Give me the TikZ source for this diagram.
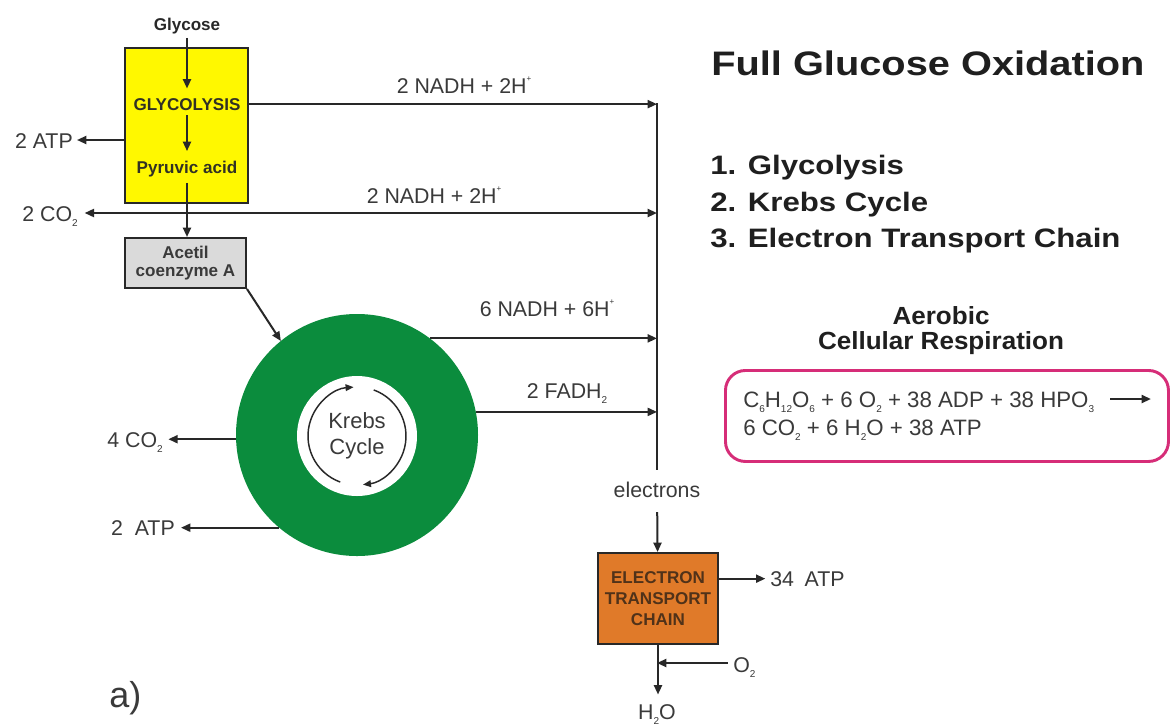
\documentclass[tikz,border=0pt]{standalone}
\usepackage{fontspec}
\setmainfont{Liberation Sans}
\newfontfamily\wideA[FakeStretch=1.17]{Liberation Sans}
\newfontfamily\wideB[FakeStretch=1.05]{Liberation Sans}
\usetikzlibrary{arrows.meta}
\definecolor{ink}{RGB}{40,40,40}
\definecolor{labelgray}{RGB}{58,58,58}
\definecolor{glyyellow}{RGB}{255,248,0}
\definecolor{krebsgreen}{RGB}{11,140,61}
\definecolor{etcorange}{RGB}{224,122,41}
\definecolor{etctext}{RGB}{80,50,25}
\definecolor{acetilgray}{RGB}{218,218,218}
\definecolor{eqmagenta}{RGB}{214,45,120}
\newcommand\lsub[1]{\raisebox{-0.45ex}{\fontsize{7.5}{7.5}\selectfont #1}}
\newcommand\lsup[1]{\raisebox{1.0ex}{\fontsize{6}{6}\selectfont #1}}
\begin{document}
\begin{tikzpicture}[x=0.75pt,y=-0.75pt,
  arr/.style={line width=1.5pt, draw=ink, -{Triangle[length=7pt,width=6pt]}},
  smallarr/.style={line width=1.1pt, draw=ink, -{Triangle[length=6pt,width=5pt]}},
  wire/.style={line width=1.5pt, draw=ink},
  lbl/.style={inner sep=0pt, font=\fontsize{16}{19}\selectfont, text=labelgray},
  boxtxt/.style={inner sep=0pt, font=\fontsize{12.8}{13.5}\selectfont\bfseries},
  procbox/.style={draw=ink, line width=1.5pt, inner sep=0pt, anchor=north west},
  bigtxt/.style={inner sep=0pt, text=black!88},
]
\useasboundingbox (0,0) rectangle (1171,726);
\fill[white] (0,0) rectangle (1171,726);

% ---------- glycolysis ----------
\node[procbox, fill=glyyellow, minimum width=92.25pt, minimum height=116.25pt] (glybox) at (124,47) {};
\node[boxtxt, text=ink, anchor=base] (glycose) at (187,30) {Glycose};
\node[boxtxt, text=ink!90!olive, anchor=base] (glyco) at (187,110) {GLYCOLYSIS};
\node[boxtxt, text=ink!90!olive, anchor=base] (pyr) at (187,173) {Pyruvic acid};
\draw[arr, shorten <=3pt, shorten >=7pt] (glycose) -- (glyco);
\draw[arr, shorten <=3.5pt, shorten >=7pt] (glyco) -- (pyr);

\node[procbox, fill=acetilgray, minimum width=90.75pt, minimum height=37.5pt, align=center,
      font=\fontsize{12.8}{13.5}\selectfont\bfseries, text=labelgray] (acetil) at (124,237) {Acetil\\coenzyme A};
\draw[arr, shorten <=4.5pt] (pyr) -- (pyr |- acetil.north);

% side outputs of glycolysis
\node[lbl, anchor=base east] (atp1) at (73,148) {2 ATP};
\coordinate (yatp) at (0,140);
\draw[arr] (glybox.west |- yatp) -- ([xshift=3pt]atp1.east |- yatp);

\node[lbl, anchor=base east] (co2a) at (78,221) {2 CO\lsub{2}};
\coordinate (j1) at (187,213);

% collector
\coordinate (coltop) at (657,103);
\coordinate (colbot) at (657,470);
\draw[wire] (coltop) -- (colbot);

\draw[arr] (j1) -- ([xshift=5pt]co2a.east |- j1);
\draw[arr] (j1) -- (j1 -| coltop);
\draw[arr] (glybox.east |- glyco) -- (glyco -| coltop);

\node[lbl, anchor=base] (nadh1) at (464,93) {2 NADH + 2H\lsup{+}};
\node[lbl, anchor=base] (nadh2) at (434,203) {2 NADH + 2H\lsup{+}};

% ---------- Krebs cycle ----------
\node[circle, fill=krebsgreen, minimum size=181.5pt, inner sep=0pt, outer sep=0pt] (ring) at (357,435) {};
\node[circle, fill=white, minimum size=90pt, inner sep=0pt, align=center,
      font=\fontsize{16.5}{19.5}\selectfont, text=labelgray] (hole) at (357,436) {Krebs\\Cycle};
\draw[smallarr] ([shift={(110:49)}]hole.center) arc[start angle=110, end angle=266, radius=49];
\draw[smallarr] ([shift={(-70:49)}]hole.center) arc[start angle=-70, end angle=83, radius=49];

\draw[arr] (acetil.south east) -- (ring.129);

\draw[arr] (ring.53) -- (ring.53 -| coltop);
\draw[arr] (ring.11) -- (ring.11 -| coltop);
\node[lbl, anchor=base] (nadh3) at (547,316) {6 NADH + 6H\lsup{+}};
\node[lbl, anchor=base] (fadh) at (567,398) {2 FADH\lsub{2}};

\node[lbl, anchor=base east] (co2b) at (163,447) {4 CO\lsub{2}};
\node[lbl, anchor=base east] (atp2) at (175,535) {2\hspace{0.55em}ATP};
\draw[arr] (ring.182) -- ([xshift=4pt]co2b.east |- ring.182);
\draw[arr] (ring.230) -- ([xshift=4.5pt]atp2.east |- ring.230);

% ---------- electron transport chain ----------
\node[lbl, anchor=base] (elec) at (657,497) {electrons};
\node[procbox, fill=etcorange, minimum width=90pt, minimum height=68.25pt, align=center,
      font=\fontsize{12.8}{15.75}\selectfont\bfseries, text=etctext] (etc) at (597,552) {ELECTRON\\TRANSPORT\\CHAIN};
\draw[arr, shorten <=11pt] (elec) -- (etc);

\node[lbl, anchor=base west] (atp3) at (770,586) {34\hspace{0.5em}ATP};
\draw[arr] (etc.east |- atp3) -- ([xshift=-3.5pt]atp3.west);

\node[lbl, anchor=base] (h2o) at (657,719) {H\lsub{2}O};
\draw[arr] (etc.south) -- ([yshift=7pt]etc.south |- h2o.north);
\node[lbl, anchor=base west] (o2) at (733,672) {O\lsub{2}};
\coordinate (jo) at (657,663);
\draw[arr] ([xshift=-4pt]o2.west |- jo) -- (jo);

\node[inner sep=0pt, anchor=base west, font=\fontsize{27}{27}\selectfont, text=labelgray] (lbla) at (109,707) {a)};

% ---------- right side ----------
\node[bigtxt, anchor=base west, font=\wideA\bfseries\fontsize{25.5}{30}\selectfont] (title) at (711,75) {Full Glucose Oxidation};
\node[bigtxt, anchor=base west, font=\wideA\bfseries\fontsize{20}{24}\selectfont] (l1) at (710,174) {1. Glycolysis};
\node[bigtxt, anchor=base west, font=\wideA\bfseries\fontsize{20}{24}\selectfont] (l2) at (710,211) {2. Krebs Cycle};
\node[bigtxt, anchor=base west, font=\wideA\bfseries\fontsize{20}{24}\selectfont] (l3) at (710,247) {3. Electron Transport Chain};

\node[bigtxt, anchor=base, font=\wideB\bfseries\fontsize{18.6}{22}\selectfont] (aer1) at (941,324) {Aerobic};
\node[bigtxt, anchor=base, font=\wideB\bfseries\fontsize{18.6}{22}\selectfont] (aer2) at (941,349) {Cellular Respiration};

\node[draw=eqmagenta, line width=2.2pt, rounded corners=15pt, minimum width=332.25pt, minimum height=68.25pt,
      inner sep=0pt, anchor=north west] (eqbox) at (724,369) {};
\node[lbl, anchor=base west, font=\fontsize{16.7}{19}\selectfont] (eq1) at (743,407)
  {C\lsub{6}H\lsub{12}O\lsub{6} + 6 O\lsub{2} + 38 ADP + 38 HPO\lsub{3}};
\node[lbl, anchor=base west, font=\fontsize{16.7}{19}\selectfont] (eq2) at (743,435)
  {6 CO\lsub{2} + 6 H\lsub{2}O + 38 ATP};
\coordinate (eqa) at (1110,399);
\draw[arr, shorten >=14.25pt] (eqa) -- (eqa -| eqbox.east);
\end{tikzpicture}
\end{document}
